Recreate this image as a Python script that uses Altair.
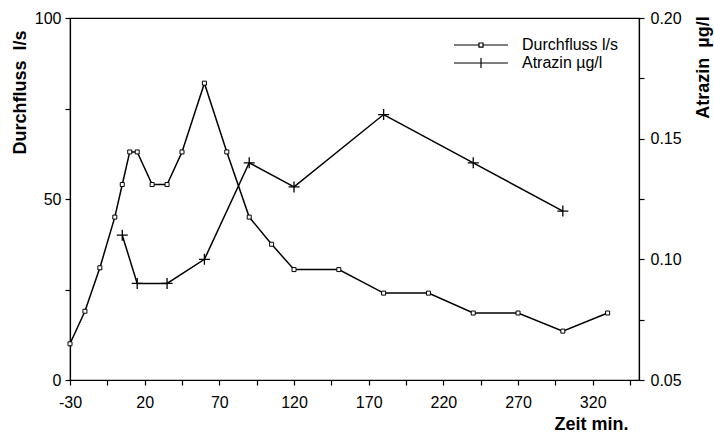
import altair as alt
import pandas as pd

# ---- data ----
t_flow = [-30, -20, -10, 0, 5, 10, 15, 25, 35, 45, 60, 75, 90, 105, 120, 150, 180, 210, 240, 270, 300, 330]
flow = [10, 19, 31, 45, 54, 63, 63, 54, 54, 63, 82, 63, 45, 37.5, 30.5, 30.5, 24, 24, 18.5, 18.5, 13.5, 18.5]

t_atr = [5, 15, 35, 60, 90, 120, 180, 240, 300]
atr = [0.11, 0.09, 0.09, 0.10, 0.14, 0.13, 0.16, 0.14, 0.12]

series_names = ["Durchfluss l/s", "Atrazin µg/l"]
x_ticks = [-30, -5, 20, 45, 70, 95, 120, 145, 170, 195, 220, 245, 270, 295, 320, 345]
left_ticks = [0, 25, 50, 75, 100]
right_ticks = [0.05, 0.075, 0.10, 0.125, 0.15, 0.175, 0.20]

df_flow = pd.DataFrame({"t": t_flow, "v": flow, "series": series_names[0]})
df_atr = pd.DataFrame({"t": t_atr, "v": atr, "series": series_names[1]})

FONT = "Liberation Sans"

x_enc = alt.X(
    "t:Q",
    scale=alt.Scale(domain=[-30, 351], nice=False, zero=False),
    axis=alt.Axis(
        values=x_ticks,
        labelExpr="(datum.value + 30) % 50 == 0 ? '' + datum.value : ''",
        labelFlush=False,
        title="Zeit min.",
        titleX=521,
        titleY=35,
        titleAlign="center",
        titleBaseline="top",
        labelPadding=9,
        grid=False,
    ),
)

y_left = alt.Y(
    "v:Q",
    scale=alt.Scale(domain=[0, 100], nice=False),
    axis=alt.Axis(
        orient="left",
        values=left_ticks,
        labelExpr="datum.value % 50 == 0 ? datum.label : ''",
        title="Durchfluss\u00a0 l/s",
        titleAngle=270,
        titleX=-50,
        titleY=74,
        titleAlign="center",
        titleBaseline="middle",
        labelPadding=4,
        grid=False,
    ),
)

y_right = alt.Y(
    "v:Q",
    scale=alt.Scale(domain=[0.05, 0.20], nice=False, zero=False),
    axis=alt.Axis(
        orient="right",
        values=right_ticks,
        labelExpr="round(datum.value * 200) % 2 == 0 ? format(datum.value, '.2f') : ''",
        title="Atrazin\u00a0 µg/l",
        titleAngle=270,
        titleX=64,
        titleY=49,
        titleAlign="center",
        titleBaseline="middle",
        labelPadding=6,
        grid=False,
    ),
)

flow_line = alt.Chart().mark_line(color="black", strokeWidth=1.5).encode(x=x_enc, y=y_left)
flow_pts = alt.Chart().mark_point(
    shape="square", size=16, fill="white", stroke="black", strokeWidth=1, opacity=1, fillOpacity=1
).encode(x=x_enc, y=y_left)

legend_paths = [
    "M-6,0L-0.45,0M0.45,0L6,0M-0.45,-0.45L0.45,-0.45L0.45,0.45L-0.45,0.45Z",
    "M-6,0L6,0M0,-1.1L0,1.1",
]
legend_dummy = (
    alt.Chart()
    .mark_point(color="black", filled=False, opacity=1)
    .encode(
        x=x_enc,
        y=y_left,
        shape=alt.Shape(
            "series:N",
            scale=alt.Scale(domain=series_names, range=legend_paths),
            legend=alt.Legend(
                title=None,
                orient="none",
                legendX=403,
                legendY=19,
                labelFont=FONT,
                labelFontSize=16,
                labelColor="black",
                labelOffset=33,
                symbolSize=81,
                symbolStrokeWidth=1.2,
                symbolStrokeColor="black",
                symbolFillColor="white",
                rowPadding=2,
            ),
        ),
    )
    .transform_filter("false")
)

atr_line = alt.Chart().mark_line(color="black", strokeWidth=1.5).encode(x=x_enc, y=y_right)
atr_pts = alt.Chart().mark_point(
    shape="M-1,0L1,0M0,-1L0,1", size=121, filled=False, color="black", strokeWidth=1.3, opacity=1
).encode(x=x_enc, y=y_right)

left = alt.layer(flow_line, flow_pts, legend_dummy, data=df_flow)
right = alt.layer(atr_line, atr_pts, data=df_atr)

chart = (
    alt.layer(left, right)
    .resolve_scale(y="independent")
    .properties(
        width=569,
        height=362,
        autosize=alt.AutoSizeParams(type="none"),
        padding={"left": 70, "top": 18, "right": 75, "bottom": 52},
        background="white",
    )
    .configure_view(stroke="black", strokeWidth=1.2)
    .configure_axis(
        domainColor="black",
        domainWidth=1.2,
        tickColor="black",
        tickWidth=1.2,
        tickSize=5,
        labelFont=FONT,
        labelFontSize=16,
        labelColor="black",
        titleFont=FONT,
        titleFontSize=18,
        titleFontWeight="bold",
        titleColor="black",
    )
)

chart.save("out.html", embed_options={"renderer": "svg", "actions": False})
